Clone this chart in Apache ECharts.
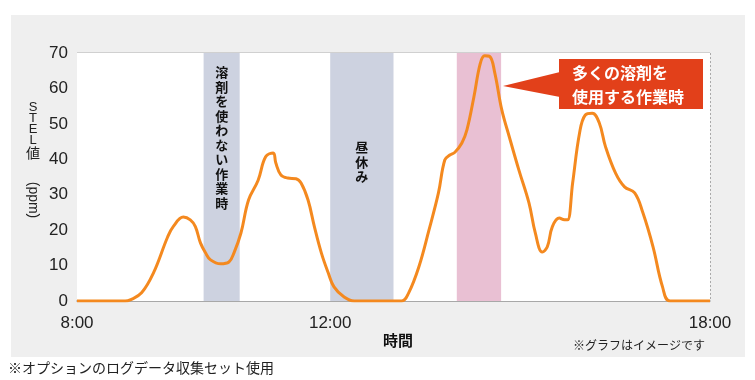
<!DOCTYPE html>
<html>
<head>
<meta charset="utf-8">
<script src="https://cdn.jsdelivr.net/npm/echarts@6/dist/echarts.min.js"></script>
<style>
html,body{margin:0;padding:0;background:#fff;}
#chart{width:755px;height:380px;}
</style>
</head>
<body>
<div id="chart"></div>
<script>
// ---- data ----
const times = [8.0, 8.76, 8.84, 9.02, 9.21, 9.43, 9.52, 9.68, 9.79, 9.87, 9.95, 10.03, 10.11, 10.27, 10.40, 10.48, 10.59, 10.71, 10.86, 10.98, 11.10, 11.14, 11.22, 11.33, 11.46, 11.54, 11.65, 11.75, 11.86, 11.97, 12.06, 12.22, 12.38, 13.13, 13.24, 13.40, 13.56, 13.71, 13.81, 13.89, 13.97, 14.08, 14.16, 14.27, 14.37, 14.44, 14.52, 14.60, 14.71, 14.83, 14.98, 15.14, 15.24, 15.35, 15.43, 15.51, 15.62, 15.70, 15.75, 15.83, 15.94, 16.03, 16.14, 16.25, 16.35, 16.51, 16.65, 16.81, 16.94, 17.10, 17.25, 17.37, 18.0];
const stelValues = [0, 0, 0.3, 2.3, 8, 18, 21, 23.7, 22.9, 21, 16.4, 13.6, 11.6, 10.5, 11, 13.6, 19.2, 28.5, 34, 40.7, 41.8, 39, 35.6, 34.7, 34.5, 33.3, 28.5, 21, 13.6, 7.9, 4, 1.1, 0, 0, 2.3, 9.6, 20, 30.5, 39.8, 41.2, 42, 44.6, 48.3, 57.6, 67, 69.2, 69, 64.4, 54, 46.3, 37, 27.7, 19.2, 13.8, 15.3, 21, 23.4, 22.9, 22.9, 33.3, 47.5, 52.5, 53, 50.3, 43.5, 36, 32.2, 30.5, 24.9, 15.3, 4, 0, 0];
const bandStarts = [10.0, 12.0, 14.0];
const bandEnds = [10.57, 13.0, 14.7];
const bandLabels = ['溶剤を使わない作業時', '昼休み', ''];
const xLabelHours = [8, 12, 18];
const xLabelTexts = ['8:00', '12:00', '18:00'];
const yTicks = [0, 10, 20, 30, 40, 50, 60, 70];
const yNameUpright = ['S', 'T', 'E', 'L', '値'];
const yNameRotated = '(ppm)';

const FONT = '"Liberation Sans", "Noto Sans CJK JP", sans-serif';
const JFONT = '"Noto Sans CJK JP", sans-serif';
const bandColors = ['#cdd2e0', '#cdd2e0', '#e9c0d3'];
const bandLabelDist = [12, 87, 0];
const yNameCharY = [107, 118, 129, 140, 153];

const chart = echarts.init(document.getElementById('chart'));
const vertical = s => s.split('').join('\n');

const markData = bandStarts.map((s, i) => [
  {
    xAxis: s,
    itemStyle: { color: bandColors[i] },
    label: {
      show: bandLabels[i] !== '',
      position: 'insideTop',
      distance: bandLabelDist[i],
      formatter: vertical(bandLabels[i]),
      color: '#111',
      fontFamily: JFONT,
      fontWeight: 'bold',
      fontSize: 13,
      lineHeight: 14.5
    }
  },
  { xAxis: bandEnds[i] }
]);

const yNameGraphics = yNameUpright.map((c, i) => ({
  type: 'text', x: 33, y: yNameCharY[i],
  style: { text: c, font: (i < 4 ? '13px ' + FONT : '14px ' + JFONT), fill: '#222', align: 'center', verticalAlign: 'middle' }
}));

chart.setOption({
  animation: false,
  backgroundColor: '#fff',
  grid: { left: 77, right: 45, top: 53, bottom: 79, show: true, backgroundColor: '#fff', borderWidth: 0, z: 1 },
  xAxis: {
    type: 'value', min: 8, max: 18, interval: 1,
    axisLine: { show: true, onZero: false, lineStyle: { color: '#9a9a9a', width: 1.5 } },
    axisTick: { show: false },
    axisLabel: {
      margin: 14, fontSize: 17, color: '#222', fontFamily: FONT,
      formatter: v => { const k = xLabelHours.indexOf(v); return k >= 0 ? xLabelTexts[k] : ''; }
    },
    splitLine: { show: true, lineStyle: { color: '#aaaaaa', type: [2, 2], width: 1 } }
  },
  yAxis: {
    type: 'value', min: yTicks[0], max: yTicks[yTicks.length - 1], interval: 10,
    axisLine: { show: false }, axisTick: { show: false },
    axisLabel: { margin: 9, fontSize: 17, color: '#222', fontFamily: FONT },
    splitLine: { show: true, lineStyle: { color: '#d0d0d0', width: 2 } }
  },
  series: [{
    type: 'line',
    data: times.map((t, i) => [t, stelValues[i]]),
    smooth: 0.4,
    symbol: 'none',
    lineStyle: { color: '#f4891f', width: 3 },
    z: 5,
    markArea: { silent: true, data: markData }
  }],
  graphic: [
    { type: 'rect', z: -10, silent: true, shape: { x: 11, y: 15, width: 734, height: 342 }, style: { fill: '#efefef' } }
  ].concat(yNameGraphics).concat([
    { type: 'text', x: 33, y: 200, rotation: -Math.PI / 2, style: { text: yNameRotated, font: '14px ' + FONT, fill: '#222', align: 'center', verticalAlign: 'middle' } },
    { type: 'text', x: 398, y: 340, style: { text: '時間', font: 'bold 15px ' + JFONT, fill: '#111', align: 'center', verticalAlign: 'middle' } },
    { type: 'text', x: 705, y: 345, style: { text: '※グラフはイメージです', font: '12px ' + JFONT, fill: '#222', align: 'right', verticalAlign: 'middle' } },
    { type: 'text', x: 8, y: 368, style: { text: '※オプションのログデータ収集セット使用', font: '14px ' + JFONT, fill: '#222', align: 'left', verticalAlign: 'middle' } },
    { type: 'polygon', z: 20, shape: { points: [[560, 72], [503, 86], [560, 97]] }, style: { fill: '#e2401a' } },
    { type: 'rect', z: 20, shape: { x: 559, y: 59, width: 144, height: 50 }, style: { fill: '#e2401a' } },
    { type: 'text', z: 21, x: 572, y: 73, style: { text: '多くの溶剤を', font: 'bold 16px ' + JFONT, fill: '#fff', align: 'left', verticalAlign: 'middle' } },
    { type: 'text', z: 21, x: 572, y: 97, style: { text: '使用する作業時', font: 'bold 16px ' + JFONT, fill: '#fff', align: 'left', verticalAlign: 'middle' } }
  ])
});
</script>
</body>
</html>
